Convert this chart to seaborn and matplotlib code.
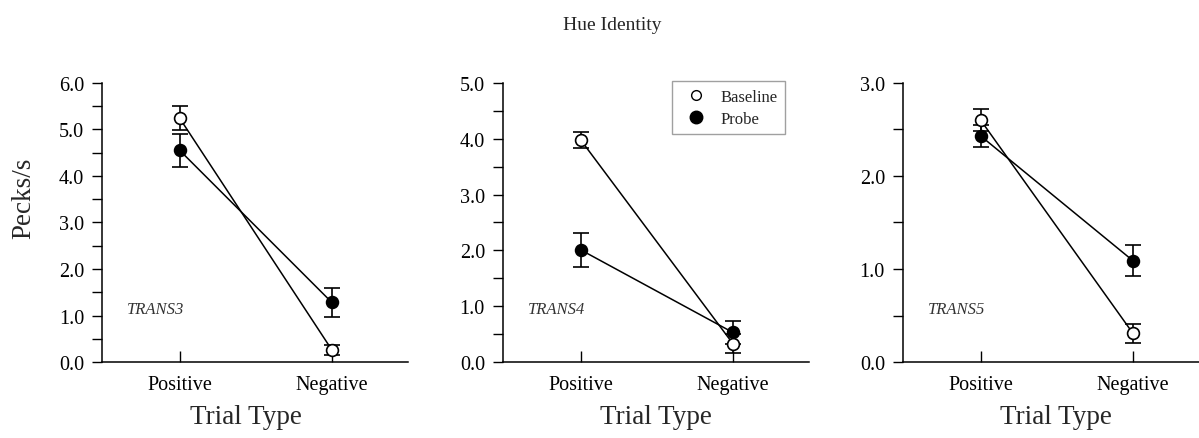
"""Hue identity transfer: pecks/s on positive vs negative trials, three birds."""

import matplotlib
matplotlib.use("Agg")
import matplotlib.pyplot as plt
import numpy as np
import pandas as pd
import seaborn as sns
from matplotlib.lines import Line2D
from matplotlib.ticker import MultipleLocator

# ─── Data ────────────────────────────────────────────────────────────────────

trial_types = ["Positive", "Negative"]
birds = ["TRANS3", "TRANS4", "TRANS5"]

baseline_mean = {"TRANS3": [5.24, 0.26], "TRANS4": [3.98, 0.33], "TRANS5": [2.60, 0.31]}
baseline_err = {"TRANS3": [0.26, 0.11], "TRANS4": [0.14, 0.17], "TRANS5": [0.12, 0.10]}
probe_mean = {"TRANS3": [4.55, 1.28], "TRANS4": [2.01, 0.53], "TRANS5": [2.43, 1.09]}
probe_err = {"TRANS3": [0.36, 0.31], "TRANS4": [0.31, 0.20], "TRANS5": [0.12, 0.17]}

y_max = {"TRANS3": 6.0, "TRANS4": 5.0, "TRANS5": 3.0}


def build_frame(bird: str) -> pd.DataFrame:
    rows = []
    for cond, means, errs in (("Baseline", baseline_mean, baseline_err),
                              ("Probe", probe_mean, probe_err)):
        for t, m, e in zip(trial_types, means[bird], errs[bird]):
            rows.append({"trial": t, "condition": cond, "rate": m, "err": e})
    return pd.DataFrame(rows)


# ─── Plot ─────────────────────────────────────────────────────────────────────

sns.set_theme(style="ticks")
plt.rcParams["font.family"] = ["Liberation Serif", "DejaVu Serif"]

fig = plt.figure(figsize=(11.99, 4.39), dpi=100)
lefts = [0.0851, 0.4195, 0.7531]
face = {"Baseline": "white", "Probe": "black"}

for i, bird in enumerate(birds):
    ax = fig.add_axes([lefts[i], 0.173, 0.2552, 0.636])
    df = build_frame(bird)
    for cond in ["Probe", "Baseline"]:
        sub = df[df["condition"] == cond]
        ax.errorbar(sub["trial"], sub["rate"], yerr=sub["err"], fmt="none",
                    ecolor="black", elinewidth=1.2, capsize=5.5, capthick=1.2, zorder=2)
        sns.lineplot(data=sub, x="trial", y="rate", ax=ax, color="black",
                     linewidth=1.1, marker="o", markersize=8.5,
                     markerfacecolor=face[cond], markeredgecolor="black",
                     markeredgewidth=1.2, errorbar=None, sort=False, zorder=3)

    ax.set_xlim(-0.51, 1.5)
    ax.set_ylim(0, y_max[bird])
    ax.yaxis.set_major_locator(MultipleLocator(1.0))
    ax.yaxis.set_minor_locator(MultipleLocator(0.5))
    ax.yaxis.set_major_formatter(lambda v, _: f"{v:.1f}")
    ax.tick_params(axis="y", which="both", direction="out", length=7,
                   width=1, labelsize=14.5, pad=6, colors="black")
    ax.tick_params(axis="x", direction="in", length=8, width=1,
                   labelsize=14.5, pad=9, colors="black")
    for side in ("top", "right"):
        ax.spines[side].set_visible(False)
    for side in ("left", "bottom"):
        ax.spines[side].set_color("black")
        ax.spines[side].set_linewidth(1.1)

    ax.set_xlabel("Trial Type", fontsize=19.5)
    ax.xaxis.set_label_coords(0.5 - 0.03 * (i == 0), -0.15)
    if i == 0:
        ax.set_ylabel("Pecks/s", fontsize=19.5)
        ax.yaxis.set_label_coords(-0.215, 0.59)
    else:
        ax.set_ylabel("")

    ax.text(0.08, 0.19, bird, transform=ax.transAxes, fontsize=12,
            fontstyle="italic", ha="left", va="center", color="#333333")

    if i == 1:
        handles = [
            Line2D([], [], linestyle="none", marker="o", markersize=7,
                   markerfacecolor="white", markeredgecolor="black", label="Baseline"),
            Line2D([], [], linestyle="none", marker="o", markersize=9,
                   markerfacecolor="black", markeredgecolor="black", label="Probe"),
        ]
        leg = ax.legend(handles=handles, loc="upper right", bbox_to_anchor=(0.95, 1.035),
                        fontsize=12, frameon=True, fancybox=False,
                        handletextpad=0.5, borderpad=0.45, labelspacing=0.35)
        leg.get_frame().set_edgecolor("#888888")
        leg.get_frame().set_linewidth(1.0)
    elif ax.get_legend() is not None:
        ax.get_legend().remove()

fig.text(0.511, 1 - 26 / 439, "Hue Identity", ha="center", va="center", fontsize=14)

fig.savefig("out.png", dpi=100)
plt.close(fig)
